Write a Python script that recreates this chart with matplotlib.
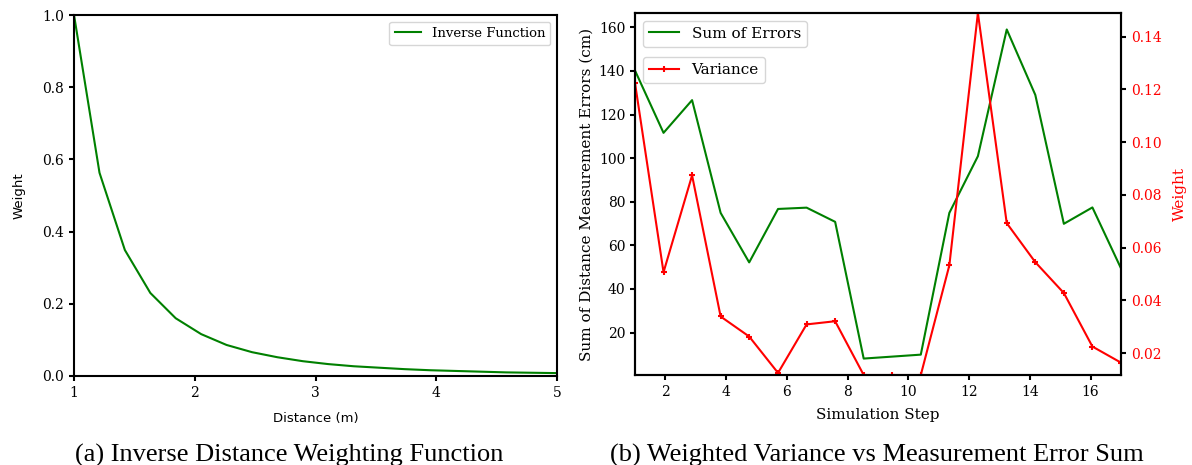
import numpy as np
import matplotlib
matplotlib.use("Agg")
import matplotlib.pyplot as plt

# ---- inverse distance weighting curve ----
distance = [1.000, 1.211, 1.421, 1.632, 1.842, 2.053, 2.263, 2.474, 2.684, 2.895,
            3.105, 3.316, 3.526, 3.737, 3.947, 4.158, 4.368, 4.579, 4.789, 5.000]
idw_weight = [1.000, 0.563, 0.349, 0.230, 0.160, 0.116, 0.086, 0.066, 0.052, 0.041,
              0.033, 0.027, 0.023, 0.019, 0.016, 0.014, 0.012, 0.010, 0.009, 0.008]

# ---- simulation results ----
sim_step = [1.00, 1.94, 2.88, 3.82, 4.76, 5.71, 6.65, 7.59, 8.53,
            9.47, 10.41, 11.35, 12.29, 13.24, 14.18, 15.12, 16.06, 17.00]
error_sum = [140.2, 111.6, 126.6, 74.9, 52.2, 76.7, 77.3, 70.8, 8.1,
             9.0, 9.9, 74.9, 100.9, 159.0, 129.0, 69.9, 77.4, 49.5]
variance = [0.1225, 0.0507, 0.0874, 0.0339, 0.0263, 0.0125, 0.0309, 0.0321, 0.0117,
            0.0117, 0.0117, 0.0533, 0.1490, 0.0693, 0.0545, 0.0428, 0.0225, 0.0164]

fig = plt.figure(figsize=(11.92, 4.65), dpi=100)

# (a) weighting function
ax_a = fig.add_axes([0.0621, 0.1914, 0.4052, 0.7763])
ax_a.plot(distance, idw_weight, color="g", lw=1.5, label="Inverse Function")
ax_a.set_xlim(1, 5)
ax_a.set_ylim(0, 1)
ax_a.set_xticks([1, 2, 3, 4, 5])
ax_a.set_yticks([0.0, 0.2, 0.4, 0.6, 0.8, 1.0])
for lab in ax_a.get_xticklabels() + ax_a.get_yticklabels():
    lab.set_family("DejaVu Serif")
    lab.set_fontsize(10)
ax_a.set_xlabel("Distance (m)", fontsize=9.5, family="DejaVu Sans", labelpad=9)
ax_a.set_ylabel("Weight", fontsize=9.5, family="DejaVu Sans", labelpad=12)
ax_a.legend(loc="upper right", prop={"family": "DejaVu Serif", "size": 9.5})
for sp in ax_a.spines.values():
    sp.set_linewidth(1.5)
ax_a.tick_params(width=1.5)

# (b) variance vs error sum
ax_b = fig.add_axes([0.5327, 0.1935, 0.4077, 0.7785])
ax_b.plot(sim_step, error_sum, color="g", lw=1.5, label="Sum of Errors")
ax_b.set_xlim(1, 17)
ax_b.set_xticks([2, 4, 6, 8, 10, 12, 14, 16])
ax_b.set_yticks([20, 40, 60, 80, 100, 120, 140, 160])
ax_b.set_xlabel("Simulation Step", fontsize=11, family="DejaVu Serif", labelpad=7)
ax_b.set_ylabel("Sum of Distance Measurement Errors (cm)", fontsize=11, family="DejaVu Serif")
for lab in ax_b.get_xticklabels() + ax_b.get_yticklabels():
    lab.set_family("DejaVu Serif")
    lab.set_fontsize(10)

ax_r = ax_b.twinx()
ax_r.plot(sim_step, variance, color="r", lw=1.5, marker="+", ms=4, mew=1.5, label="Variance")
ax_r.set_ylim(min(variance), max(variance))
ax_r.set_yticks([0.02, 0.04, 0.06, 0.08, 0.10, 0.12, 0.14])
ax_r.set_ylabel("Weight", color="r", fontsize=11, family="DejaVu Serif", labelpad=8)
ax_r.tick_params(axis="y", labelcolor="r", width=1.5)
for lab in ax_r.get_yticklabels():
    lab.set_family("DejaVu Serif")
    lab.set_fontsize(10)

ax_b.legend(loc="upper left", prop={"family": "DejaVu Serif", "size": 11})
ax_r.legend(loc="upper left", bbox_to_anchor=(0, 0.9), prop={"family": "DejaVu Serif", "size": 11})
for a in (ax_b, ax_r):
    for sp in a.spines.values():
        sp.set_linewidth(1.5)
ax_b.tick_params(width=1.5)

# captions
fig.text(0.243, -0.004, "(a) Inverse Distance Weighting Function", ha="center", va="bottom",
         fontsize=19, family="Liberation Serif")
fig.text(0.736, -0.004, "(b) Weighted Variance vs Measurement Error Sum", ha="center", va="bottom",
         fontsize=19, family="Liberation Serif")

fig.savefig("out.png", dpi=100)
